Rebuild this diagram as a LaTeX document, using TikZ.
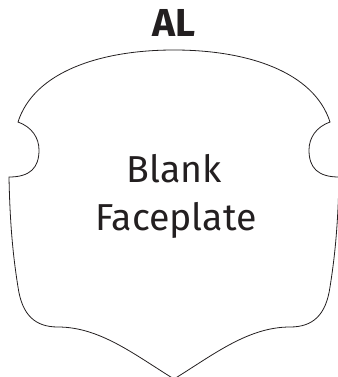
\documentclass[tikz,border=0pt]{standalone}
\usepackage{fontspec}
\setmainfont{Fira Sans}
\usetikzlibrary{positioning}
\definecolor{plateink}{RGB}{35,31,32}
\begin{document}
\begin{tikzpicture}[x=1pt, y=-1pt]
\useasboundingbox (0,0) rectangle (337,377);
\draw [line width=0.8pt, plateink] (18,122) .. controls (34,72) and (100,50) .. (174,50)
  .. controls (248,50) and (314,72) .. (330,122)
  .. controls (316,127) and (309,138) .. (309,150)
  .. controls (309,168) and (318,177) .. (339,177)
  .. controls (338,230) and (334,262) .. (330,287)
  .. controls (326,315) and (313,327) .. (290,327)
  .. controls (248,327) and (213,355) .. (174,379)
  .. controls (135,355) and (100,327) .. (58,327)
  .. controls (35,327) and (22,315) .. (18,287)
  .. controls (14,262) and (10,230) .. (9,177)
  .. controls (30,177) and (39,168) .. (39,150)
  .. controls (39,138) and (32,127) .. (18,122) -- cycle;
\node [anchor=base, plateink, font=\fontsize{39}{39}\selectfont\bfseries, inner sep=0pt] (title) at (174,37) {AL};
\node [anchor=base, plateink, font=\fontsize{37.5}{37.5}\selectfont, inner sep=0pt] (blank) at (174,182) {Blank};
\node [anchor=base, plateink, font=\fontsize{37.5}{37.5}\selectfont, inner sep=0pt] (faceplate) at (176,230) {Faceplate};
\end{tikzpicture}
\end{document}
